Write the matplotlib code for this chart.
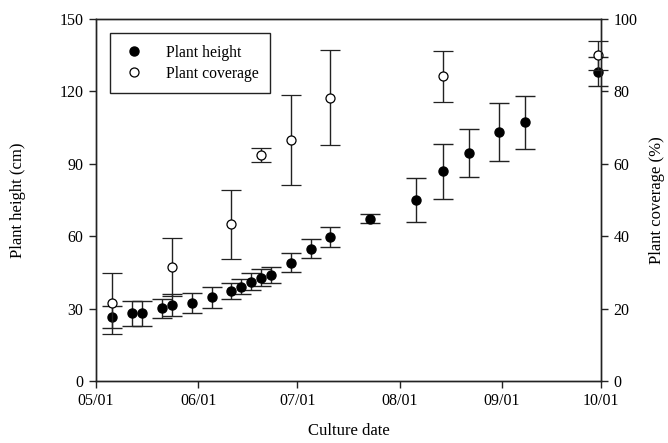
import datetime as dt
import matplotlib
matplotlib.use('Agg')
import matplotlib.pyplot as plt
from matplotlib.lines import Line2D

plt.rcParams['font.family'] = ['Liberation Serif', 'DejaVu Serif']

# Plant height (cm), mean and error
height_dates = ['05-06', '05-12', '05-15', '05-21', '05-24', '05-30', '06-05', '06-11',
                '06-14', '06-17', '06-20', '06-23', '06-29', '07-05', '07-11', '07-23',
                '08-06', '08-14', '08-22', '08-31', '09-08', '09-30']
height = [26.4, 28.0, 28.0, 30.1, 31.4, 32.3, 34.7, 37.4, 39.1, 41.2, 42.8, 44.1,
          49.0, 54.8, 59.8, 67.3, 75.0, 86.9, 94.5, 103.2, 107.3, 128.2]
height_err = [4.6, 5.2, 5.2, 4.0, 4.6, 4.0, 4.3, 3.4, 3.0, 3.7, 3.6, 3.3,
              4.0, 4.0, 4.1, 1.8, 9.0, 11.5, 10.0, 12.0, 11.0, 6.0]

# Plant coverage (%)
cover_dates = ['05-06', '05-24', '06-11', '06-20', '06-29', '07-11', '08-14', '09-30']
coverage = [21.5, 31.5, 43.3, 62.4, 66.6, 78.3, 84.2, 90.0]
cover_err = [8.4, 8.0, 9.5, 2.0, 12.5, 13.2, 7.0, 4.0]

tick_labels = ['05/01', '06/01', '07/01', '08/01', '09/01', '10/01']


def to_date(s):
    m, d = s.split('-')
    return dt.date(2015, int(m), int(d))


hx = [to_date(s) for s in height_dates]
cx = [to_date(s) for s in cover_dates]
ticks = [dt.date(2015, m, 1) for m in range(5, 11)]

ink = '#222222'
fig = plt.figure(figsize=(6.68, 4.43), dpi=100)
ax = fig.add_axes([0.1437, 0.140, 0.756, 0.817])
ax2 = ax.twinx()

h1 = ax.errorbar(hx, height, yerr=height_err, fmt='o', color='black', ms=6.5,
                 ecolor=ink, elinewidth=1, capsize=7, capthick=1)
h2 = ax2.errorbar(cx, coverage, yerr=cover_err, fmt='o', mfc='white', mec='black',
                  mew=0.9, ms=6.5, ecolor=ink, elinewidth=1, capsize=7, capthick=1)
for cont in (h1, h2):
    for art in cont.get_children():
        art.set_clip_on(False)

ax.set_xlim(ticks[0], ticks[-1])
ax.set_ylim(0, 150)
ax.set_yticks([0, 30, 60, 90, 120, 150])
ax2.set_ylim(0, 100)
ax2.set_yticks([0, 20, 40, 60, 80, 100])
ax.set_xticks(ticks)
ax.set_xticklabels(tick_labels)

for a in (ax, ax2):
    for sp in a.spines.values():
        sp.set_color(ink)
        sp.set_linewidth(1)
    a.tick_params(direction='out', length=5, width=1, color=ink, labelsize=11.5, pad=4)

ax.set_xlabel('Culture date', fontsize=12, labelpad=10)
ax.set_ylabel('Plant height (cm)', fontsize=12, labelpad=24)
ax2.set_ylabel('Plant coverage (%)', fontsize=12, labelpad=8)

handles = [Line2D([], [], ls='none', marker='o', color='black', ms=6.5),
           Line2D([], [], ls='none', marker='o', mfc='white', mec='black', mew=0.9, ms=6.5)]
leg = ax.legend(handles, ['Plant height', 'Plant coverage'], loc='upper left',
                bbox_to_anchor=(0.0277, 0.961), borderaxespad=0, fontsize=11.3,
                fancybox=False, edgecolor=ink, framealpha=1, borderpad=0.75,
                handletextpad=1.3, labelspacing=0.3, handlelength=1.5)
leg.get_frame().set_linewidth(1)

fig.savefig('out.png', dpi=100)
